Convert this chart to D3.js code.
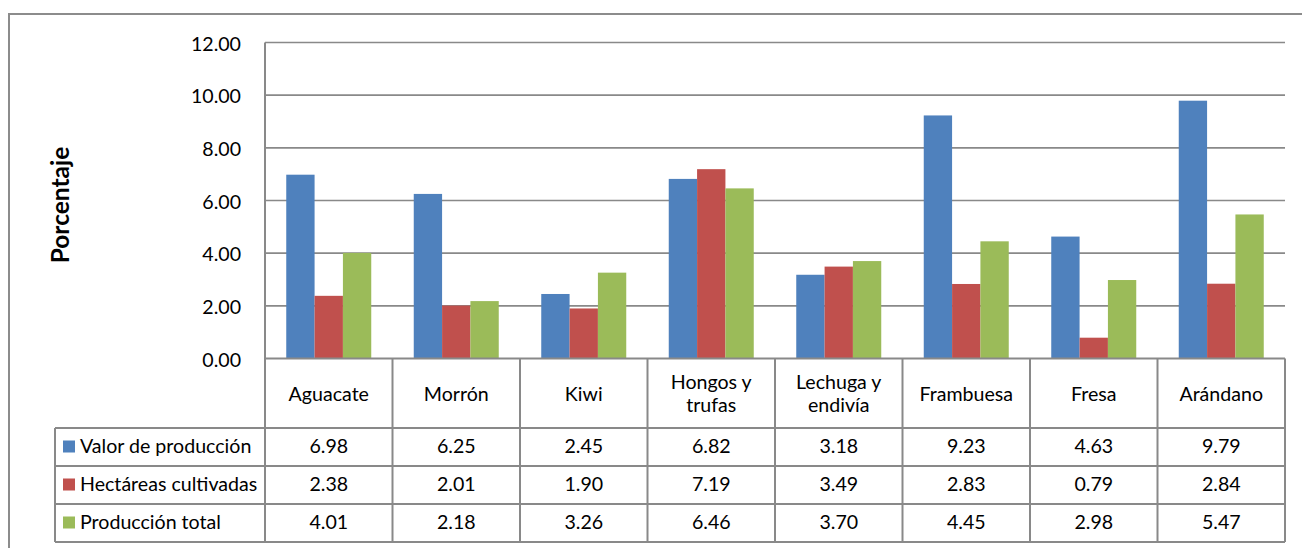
<!DOCTYPE html>
<html><head><meta charset="utf-8">
<script src="https://cdn.jsdelivr.net/npm/d3@7"></script>
<style>body{margin:0;background:#fff}svg{display:block}</style></head>
<body><svg id="c" width="1302" height="548"></svg>
<script>
const categories = ["Aguacate","Morrón","Kiwi","Hongos y trufas","Lechuga y endivía","Frambuesa","Fresa","Arándano"];
const seriesNames = ["Valor de producción","Hectáreas cultivadas","Producción total"];
const valorProduccion = [6.98,6.25,2.45,6.82,3.18,9.23,4.63,9.79];
const hectareasCultivadas = [2.38,2.01,1.90,7.19,3.49,2.83,0.79,2.84];
const produccionTotal = [4.01,2.18,3.26,6.46,3.70,4.45,2.98,5.47];
const seriesColors = ["#4F81BD","#C0504D","#9BBB59"];
const yTicks = [0,2,4,6,8,10,12];
const yTitle = "Porcentaje";

const series = [valorProduccion, hectareasCultivadas, produccionTotal];
const FONT = "Lato, 'Open Sans', sans-serif";
const FS = 19.6;
const svg = d3.select("#c");
const L = 265, R = 1285, T = 42.5, B = 358.5;
const legL = 55;
const headerH = 69.5, rowH = 38;
const grid = "#898989";

// outer chart border
svg.append("rect").attr("x",9).attr("y",14).attr("width",1310).attr("height",560)
  .attr("fill","none").attr("stroke","#8c8c8c").attr("stroke-width",2);

const x0 = d3.scaleBand().domain(categories).range([L,R]).paddingInner(0).paddingOuter(0);
const x1 = d3.scaleBand().domain(seriesNames).range([0,x0.bandwidth()]).paddingInner(0).paddingOuter(0.75);
const y = d3.scaleLinear().domain([0,12]).range([B,T]);

// gridlines
svg.append("g").selectAll("line").data(yTicks.filter(d=>d>0)).join("line")
  .attr("x1",L).attr("x2",R).attr("y1",d=>y(d)).attr("y2",d=>y(d))
  .attr("stroke",grid).attr("stroke-width",1.6);

// y axis labels
const ya = svg.append("g").attr("transform",`translate(${L},1.5)`)
  .call(d3.axisLeft(y).tickValues(yTicks).tickFormat(d3.format(".2f")).tickSize(0).tickPadding(24));
ya.select(".domain").remove();
ya.selectAll("text").attr("font-family",FONT).attr("font-size",FS).attr("fill","#000");

// y title
svg.append("text").attr("transform",`translate(63,205) rotate(-90)`)
  .attr("text-anchor","middle").attr("dominant-baseline","middle")
  .attr("font-family",FONT).attr("font-weight","bold").attr("font-size",24.5).text(yTitle);

// bars
const gb = svg.append("g");
series.forEach((vals,si)=>{
  gb.selectAll(null).data(vals).join("rect")
    .attr("x",(d,i)=>x0(categories[i])+x1(seriesNames[si]))
    .attr("width",x1.bandwidth())
    .attr("y",d=>y(d)).attr("height",d=>y(0)-y(d))
    .attr("fill",seriesColors[si]);
});

// table
const tg = svg.append("g").attr("stroke",grid).attr("stroke-width",2).attr("fill","none");
const tableBottom = B + headerH + rowH*3;
tg.append("line").attr("x1",L).attr("x2",R).attr("y1",B).attr("y2",B);
tg.append("line").attr("x1",L).attr("x2",L).attr("y1",T).attr("y2",tableBottom);
categories.forEach(c=>{
  const xr = x0(c)+x0.bandwidth();
  tg.append("line").attr("x1",xr).attr("x2",xr).attr("y1",B).attr("y2",tableBottom);
});
for(let r=0;r<=3;r++){
  const yy = B+headerH+rowH*r;
  tg.append("line").attr("x1",legL).attr("x2",R).attr("y1",yy).attr("y2",yy);
}
tg.append("line").attr("x1",legL).attr("x2",legL).attr("y1",B+headerH).attr("y2",tableBottom);

// header labels
categories.forEach(c=>{
  const idx = c.indexOf(" y ");
  const lines = idx>=0 ? [c.slice(0,idx+2), c.slice(idx+3)] : [c];
  const cx = x0(c)+x0.bandwidth()/2;
  const cy = B+headerH/2+2.5;
  const t = svg.append("text").attr("x",cx).attr("text-anchor","middle")
    .attr("font-family",FONT).attr("font-size",FS).attr("fill","#000");
  lines.forEach((ln,li)=>{
    t.append("tspan").attr("x",cx).attr("y",cy + (li-(lines.length-1)/2)*23.5)
     .attr("dominant-baseline","middle").text(ln);
  });
});

// data rows
series.forEach((vals,si)=>{
  const cy = B+headerH+rowH*si+rowH/2+1.5;
  svg.append("rect").attr("x",63).attr("y",cy-8).attr("width",12).attr("height",12).attr("fill",seriesColors[si]);
  svg.append("text").attr("x",80).attr("y",cy).attr("dominant-baseline","middle")
    .attr("font-family",FONT).attr("font-size",FS).text(seriesNames[si]);
  svg.append("g").selectAll("text").data(vals).join("text")
    .attr("x",(d,i)=>x0(categories[i])+x0.bandwidth()/2).attr("y",cy)
    .attr("text-anchor","middle").attr("dominant-baseline","middle")
    .attr("font-family",FONT).attr("font-size",FS).text(d=>d3.format(".2f")(d));
});
</script></body></html>
